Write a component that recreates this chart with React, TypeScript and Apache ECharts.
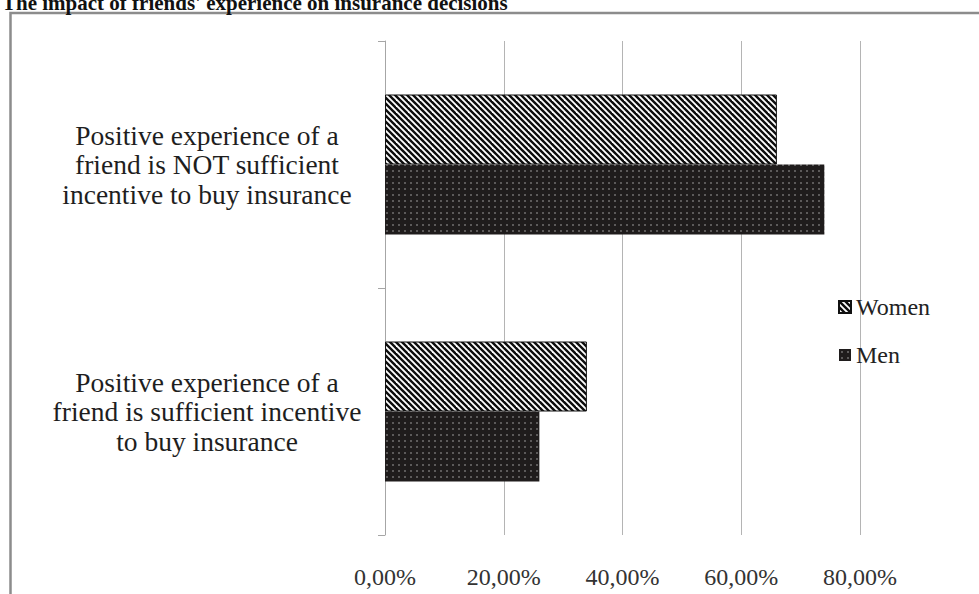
import React, { useEffect, useRef } from "react";
import * as echarts from "echarts";

// Answer categories (bottom to top on the category axis)
const categories = [
  "Positive experience of a\nfriend is sufficient incentive\nto buy insurance",
  "Positive experience of a\nfriend is NOT sufficient\nincentive to buy insurance",
];
const seriesNames = ["Women", "Men"];
const women = [0.34, 0.66];
const men = [0.26, 0.74];
const xMax = 0.8;
const xStep = 0.2;
const chartTitle = "The impact of friends' experience on insurance decisions";

const FONT = "Liberation Serif";

// Diagonal hatch (\\\) used for the Women series
function makeStripeTile(): HTMLCanvasElement {
  const size = 12;
  const period = 6;
  const c = document.createElement("canvas");
  c.width = size;
  c.height = size;
  const g = c.getContext("2d")!;
  g.fillStyle = "#ffffff";
  g.fillRect(0, 0, size, size);
  g.strokeStyle = "#0d0d0d";
  g.lineWidth = 2.4;
  for (let k = -4; k <= 4; k++) {
    const off = k * period;
    g.beginPath();
    g.moveTo(off - 2, -2);
    g.lineTo(off + size + 2, size + 2);
    g.stroke();
  }
  return c;
}

// Dark fill with small light dots used for the Men series
function makeDotTile(): HTMLCanvasElement {
  const c = document.createElement("canvas");
  c.width = 6;
  c.height = 6;
  const g = c.getContext("2d")!;
  g.fillStyle = "#1f1c1c";
  g.fillRect(0, 0, 6, 6);
  g.fillStyle = "#b8b8b8";
  g.beginPath();
  g.arc(3, 3, 0.75, 0, Math.PI * 2);
  g.fill();
  return c;
}

const pct = (v: number) => (v * 100).toFixed(2).replace(".", ",") + "%";

export default function App() {
  const ref = useRef<HTMLDivElement>(null);

  useEffect(() => {
    if (!ref.current) return;
    const chart = echarts.init(ref.current, undefined, { renderer: "svg" });
    const stripe = makeStripeTile();
    const dots = makeDotTile();

    chart.setOption({
      animation: false,
      backgroundColor: "#ffffff",
      textStyle: { fontFamily: FONT },
      grid: { left: 385, right: 119, top: 41, bottom: 59, containLabel: false },
      legend: {
        orient: "vertical",
        left: 833,
        top: 290,
        itemWidth: 12,
        itemHeight: 12,
        itemGap: 24,
        icon: "rect",
        data: seriesNames,
        textStyle: { fontFamily: FONT, fontSize: 24, color: "#222222" },
      },
      xAxis: {
        type: "value",
        min: 0,
        max: xMax,
        interval: xStep,
        axisLine: { show: false },
        axisTick: { show: false },
        splitLine: { show: true, lineStyle: { color: "#b4b4b4", width: 1 } },
        axisLabel: {
          formatter: (v: number) => pct(v),
          fontFamily: FONT,
          fontSize: 24,
          color: "#333333",
          margin: 30,
        },
      },
      yAxis: {
        type: "category",
        data: categories,
        axisLine: { show: true, lineStyle: { color: "#a6a6a6", width: 1 } },
        axisTick: { show: true, length: 7, lineStyle: { color: "#a6a6a6" } },
        axisLabel: {
          align: "center",
          margin: 178,
          fontFamily: FONT,
          fontSize: 27.5,
          lineHeight: 29.5,
          color: "#1e1e1e",
        },
      },
      series: [
        {
          name: seriesNames[0],
          type: "bar",
          data: women,
          barWidth: 70,
          barGap: "0%",
          itemStyle: {
            color: { image: stripe, repeat: "repeat" },
            borderColor: "#111111",
            borderWidth: 1,
          },
        },
        {
          name: seriesNames[1],
          type: "bar",
          data: men,
          barWidth: 70,
          barGap: "0%",
          itemStyle: {
            color: { image: dots, repeat: "repeat" },
          },
        },
      ],
      graphic: [
        {
          type: "polyline",
          z: 10,
          shape: { points: [[10.5, 594], [10.5, 13], [979, 13]] },
          style: { stroke: "#8c8c8c", lineWidth: 2.5, fill: null },
        },
        {
          type: "text",
          z: 11,
          x: 2,
          y: 13,
          style: {
            text: chartTitle,
            font: `bold 21px "${FONT}"`,
            fill: "#111111",
            verticalAlign: "bottom",
            align: "left",
          },
        },
      ],
    });

    return () => chart.dispose();
  }, []);

  return (
    <div
      ref={ref}
      style={{ position: "fixed", left: 0, top: 0, width: 979, height: 594 }}
    />
  );
}
